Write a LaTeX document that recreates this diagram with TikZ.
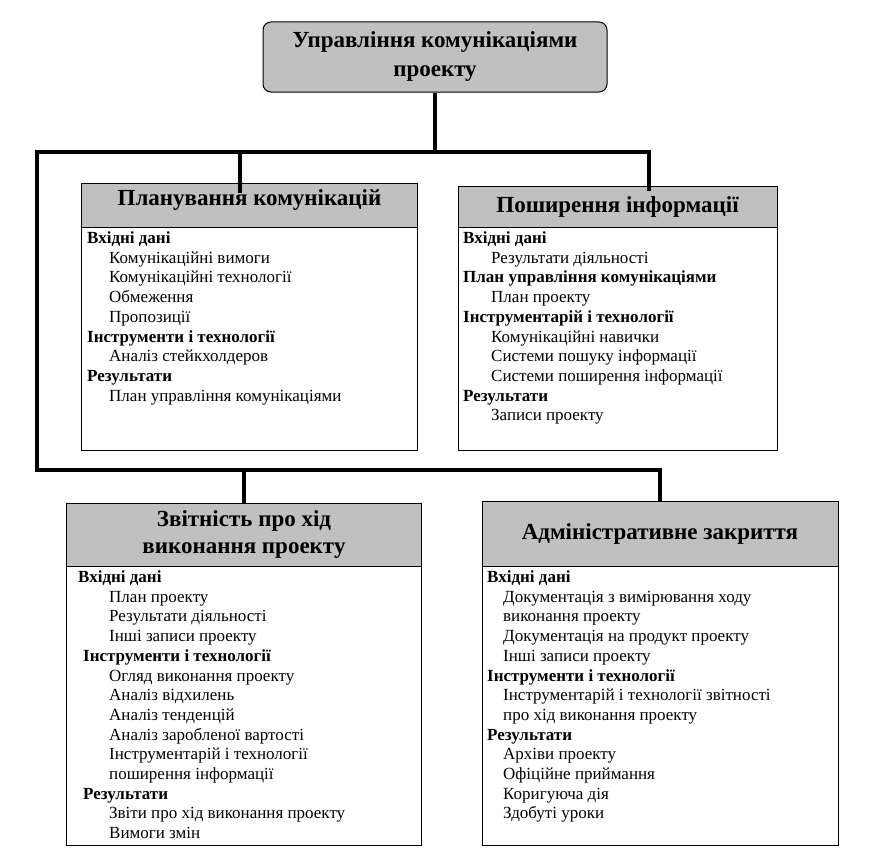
\documentclass[tikz,border=0pt]{standalone}
\usepackage{fontspec}
\setmainfont{Liberation Serif}
\usetikzlibrary{positioning}
\definecolor{headgray}{HTML}{C0C0C0}
\newlength{\EntryIndent}
\newcommand{\Entry}[1]{\hspace*{\EntryIndent}#1}

\begin{document}
\begin{tikzpicture}[x=1bp, y=-1bp,
  root/.style={rectangle, draw, rounded corners=8bp, fill=headgray, line width=1bp,
               minimum width=344bp, minimum height=70bp, align=center,
               font=\bfseries\fontsize{23bp}{29bp}\selectfont},
  head/.style={rectangle, draw, fill=headgray, line width=1bp, outer sep=0pt,
               align=center, inner sep=0pt},
  body/.style={rectangle, draw, fill=white, line width=1bp, outer sep=0pt, inner sep=0pt},
  bodytext/.style={anchor=north west, align=left, inner xsep=5bp, inner ysep=4.5bp,
                   font=\fontsize{17bp}{19.7bp}\selectfont,
                   execute at begin node={\setlength{\EntryIndent}{#1}}},
  bodytext/.default=22bp,
  bus/.style={line width=4bp}
]
\useasboundingbox (0,0) rectangle (875,860);

% Root
\node[root] (root) at (435,57) {Управління комунікаціями\\проекту};

% Upper boxes
\node[head, minimum width=335bp, minimum height=44bp, text depth=15bp,
      font=\bfseries\fontsize{23bp}{27bp}\selectfont] (planHead) at (249.5,205) {Планування комунікацій};
\node[body, minimum width=335bp, minimum height=223bp, below=0pt of planHead] (planBody) {};
\node[bodytext=22bp] (planText) at (planBody.north west) {%
  \textbf{Вхідні дані}\\
  \Entry{Комунікаційні вимоги}\\
  \Entry{Комунікаційні технології}\\
  \Entry{Обмеження}\\
  \Entry{Пропозиції}\\
  \textbf{Інструменти і технології}\\
  \Entry{Аналіз стейкхолдеров}\\
  \textbf{Результати}\\
  \Entry{План управління комунікаціями}};

\node[head, minimum width=319bp, minimum height=41bp,
      font=\bfseries\fontsize{23bp}{27bp}\selectfont] (distHead) at (617.5,206.5) {Поширення інформації};
\node[body, minimum width=319bp, minimum height=223bp, below=0pt of distHead] (distBody) {};
\node[bodytext=28bp] (distText) at (distBody.north west) {%
  \textbf{Вхідні дані}\\
  \Entry{Результати діяльності}\\
  \textbf{План управління комунікаціями}\\
  \Entry{План проекту}\\
  \textbf{Інструментарій і технології}\\
  \Entry{Комунікаційні навички}\\
  \Entry{Системи пошуку інформації}\\
  \Entry{Системи поширення інформації}\\
  \textbf{Результати}\\
  \Entry{Записи проекту}};

% Lower boxes
\node[head, minimum width=354bp, minimum height=63bp,
      font=\bfseries\fontsize{23bp}{27bp}\selectfont] (reportHead) at (244,534.5) {Звітність про хід\\виконання проекту};
\node[body, minimum width=354bp, minimum height=279bp, below=0pt of reportHead] (reportBody) {};
\node[bodytext=31bp, inner xsep=11bp] (reportText) at (reportBody.north west) {%
  \textbf{Вхідні дані}\\
  \Entry{План проекту}\\
  \Entry{Результати діяльності}\\
  \Entry{Інші записи проекту}\\
  \hspace*{5bp}\textbf{Інструменти і технології}\\
  \Entry{Огляд виконання проекту}\\
  \Entry{Аналіз відхилень}\\
  \Entry{Аналіз тенденцій}\\
  \Entry{Аналіз заробленої вартості}\\
  \Entry{Інструментарій і технології}\\
  \Entry{поширення інформації}\\
  \hspace*{5bp}\textbf{Результати}\\
  \Entry{Звіти про хід виконання проекту}\\
  \Entry{Вимоги змін}};

\node[head, minimum width=356bp, minimum height=65bp,
      font=\bfseries\fontsize{23bp}{27bp}\selectfont] (adminHead) at (660,533.5) {Адміністративне закриття};
\node[body, minimum width=356bp, minimum height=279bp, below=0pt of adminHead] (adminBody) {};
\node[bodytext=16bp] (adminText) at (adminBody.north west) {%
  \textbf{Вхідні дані}\\
  \Entry{Документація з вимірювання ходу}\\
  \Entry{виконання проекту}\\
  \Entry{Документація на продукт проекту}\\
  \Entry{Інші записи проекту}\\
  \textbf{Інструменти і технології}\\
  \Entry{Інструментарій і технології звітності}\\
  \Entry{про хід виконання проекту}\\
  \textbf{Результати}\\
  \Entry{Архіви проекту}\\
  \Entry{Офіційне приймання}\\
  \Entry{Коригуюча дія}\\
  \Entry{Здобуті уроки}};

% Bus lines
\coordinate (busL) at (37,152);
\coordinate (busBL) at (37,470);
\coordinate (planIn) at (240,193);
\coordinate (distIn) at (649,191);

\draw[bus] (root.south) -- (root.south |- busL);
\draw[bus] (distIn) |- (busL) -- (busBL) -| (adminHead.north);
\draw[bus] (planIn) -- (planIn |- busL);
\draw[bus] (reportHead.north) -- (reportHead.north |- busBL);

\end{tikzpicture}
\end{document}
